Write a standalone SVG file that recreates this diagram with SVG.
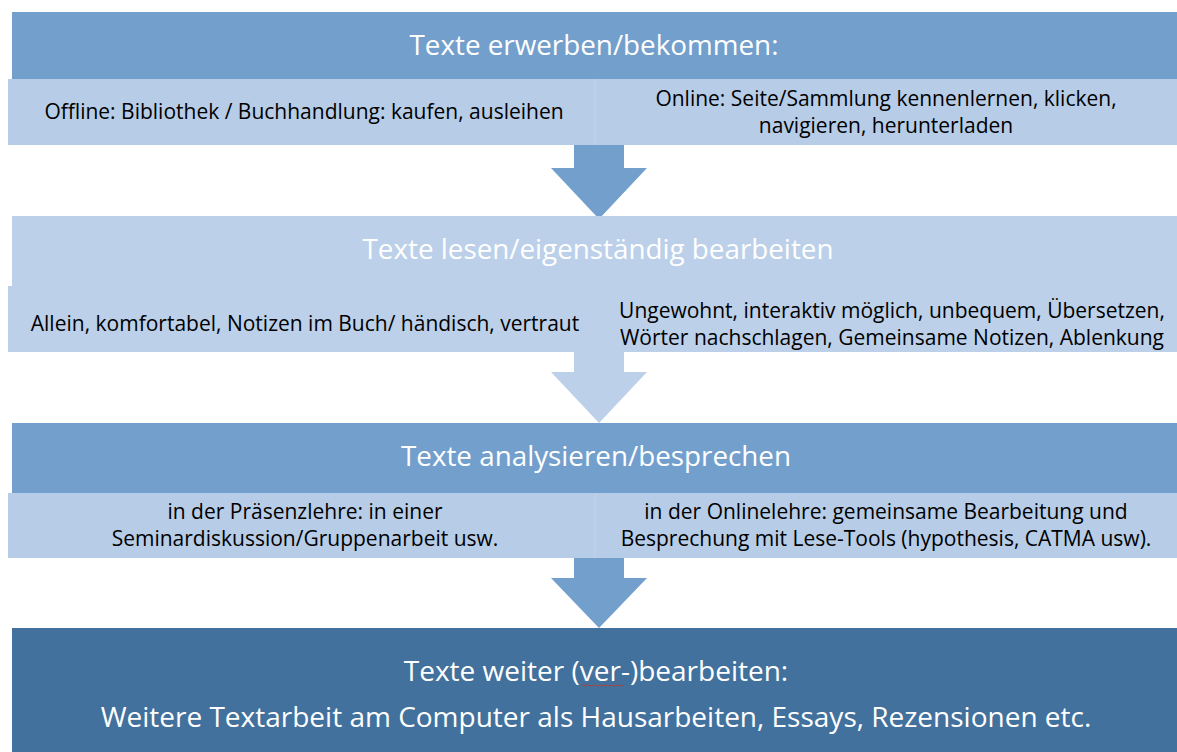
<svg xmlns="http://www.w3.org/2000/svg" width="1177" height="752" viewBox="0 0 1177 752">
<style>
.mid{fill:#739fcd}
.lite{fill:#b7cde7}
.lite2{fill:#bcd0e9}
.dark{fill:#42719d}
text{font-family:"Open Sans","Liberation Sans",sans-serif;text-anchor:middle}
.t{fill:#ffffff;font-size:27.8px}
.s{fill:#000000;font-size:21px}
.b{fill:#ffffff;font-size:28px}
</style>
<rect width="1177" height="752" fill="#ffffff"/>
<g id="connectors">
<polygon class="mid" points="574,145 624,145 624,168 647,168 599,219 551,168 574,168"/>
<polygon class="lite2" points="574,351 624,351 624,372 647,372 599,423 551,372 574,372"/>
<polygon class="mid" points="574,558 624,558 624,578 647,578 599,628 551,578 574,578"/>
</g>
<g id="node1">
<rect class="mid" x="12" y="12" width="1165" height="67"/>
<rect class="lite" x="8" y="79" width="1169" height="66"/>
<line x1="595" y1="79" x2="595" y2="145" stroke="#bcd0e9" stroke-width="2"/>
<text class="t" x="594" y="55">Texte erwerben/bekommen:</text>
<text class="s" x="304" y="119">Offline: Bibliothek / Buchhandlung: kaufen, ausleihen</text>
<text class="s" x="886" y="106">Online: Seite/Sammlung kennenlernen, klicken,</text>
<text class="s" x="886" y="133">navigieren, herunterladen</text>
</g>
<g id="node2">
<rect class="lite2" x="12" y="216" width="1165" height="70"/>
<rect class="lite2" x="8" y="286" width="1169" height="66"/>
<text class="t" x="598" y="259">Texte lesen/eigenständig bearbeiten</text>
<text class="s" x="305" y="331">Allein, komfortabel, Notizen im Buch/ händisch, vertraut</text>
<text class="s" x="892" y="318">Ungewohnt, interaktiv möglich, unbequem, Übersetzen,</text>
<text class="s" x="892" y="345">Wörter nachschlagen, Gemeinsame Notizen, Ablenkung</text>
</g>
<g id="node3">
<rect class="mid" x="12" y="423" width="1165" height="70"/>
<rect class="lite" x="8" y="493" width="1169" height="65"/>
<line x1="595" y1="493" x2="595" y2="558" stroke="#bcd0e9" stroke-width="2"/>
<text class="t" x="596" y="466">Texte analysieren/besprechen</text>
<text class="s" x="305" y="519">in der Präsenzlehre: in einer</text>
<text class="s" x="305" y="546">Seminardiskussion/Gruppenarbeit usw.</text>
<text class="s" x="886" y="519">in der Onlinelehre:  gemeinsame Bearbeitung und</text>
<text class="s" x="886" y="546">Besprechung mit Lese-Tools (hypothesis, CATMA usw).</text>
</g>
<g id="node4">
<rect class="dark" x="12" y="628" width="1165" height="124"/>
<text class="b" x="596" y="681">Texte weiter (ver-)bearbeiten:</text>
<text class="b" x="596" y="727">Weitere Textarbeit am Computer als Hausarbeiten, Essays, Rezensionen etc.</text>
<path d="M582,685 l3,1 l3,-1 l3,1 l3,-1 l3,1 l3,-1 l3,1 l3,-1 l3,1 l3,-1 l3,1 l3,-1 l3,1 l3,-1" fill="none" stroke="#c0392b" stroke-width="0.8"/>
</g>
</svg>
